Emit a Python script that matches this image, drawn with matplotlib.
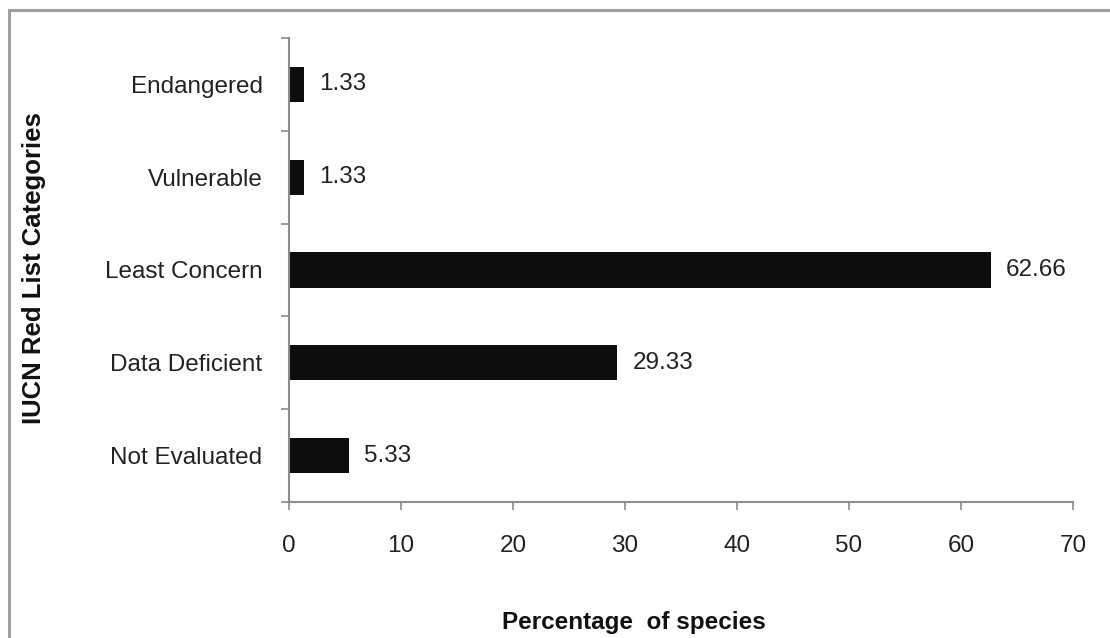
import matplotlib
matplotlib.use("Agg")
import matplotlib.pyplot as plt
from matplotlib.patches import Rectangle

categories = ["Not Evaluated", "Data Deficient", "Least Concern", "Vulnerable", "Endangered"]
percent = [5.33, 29.33, 62.66, 1.33, 1.33]
value_labels = ["5.33", "29.33", "62.66", "1.33", "1.33"]
xticks = [0, 10, 20, 30, 40, 50, 60, 70]

plt.rcParams['font.family'] = ['Liberation Sans', 'DejaVu Sans']
FS = 17.5

W, H = 1110, 638
fig = plt.figure(figsize=(W / 100, H / 100), dpi=100)
fig.patch.set_facecolor('white')

# outer frame (runs off right and bottom edges)
fig.patches.append(Rectangle((9 / W, -0.1), 1.2, 1 - 10 / H + 0.1,
                             transform=fig.transFigure, fill=False,
                             edgecolor='#a0a0a0', linewidth=2.2))

ax = fig.add_axes([289 / W, 1 - 502 / H, (1073 - 289) / W, (502 - 38) / H])
pos = list(range(len(categories)))
ax.barh(pos, percent, height=0.38, color='#0d0d0d')

for p, v, lab in zip(pos, percent, value_labels):
    ax.annotate(lab, (v, p), xytext=(11, 0), textcoords='offset points',
                va='center', ha='left', fontsize=FS, color='#222222')

ax.set_xlim(0, 70)
ax.set_ylim(-0.5, len(categories) - 0.5)
ax.set_xticks(xticks)
ax.set_xticklabels([str(t) for t in xticks])

# category names centred on the bars, ticks on the boundaries
ax.set_yticks([i - 0.5 for i in range(len(categories) + 1)])
ax.set_yticklabels([])
ax.set_yticks(pos, minor=True)
ax.set_yticklabels(categories, minor=True)
ax.tick_params(axis='y', which='minor', length=0, pad=19, labelsize=FS, labelcolor='#222222')
ax.tick_params(axis='y', which='major', length=6, width=1.2, color='#8c8c8c', direction='out')
ax.tick_params(axis='x', length=6, width=1.2, color='#8c8c8c', direction='out', pad=18,
               labelsize=FS, labelcolor='#222222')

for s in ['top', 'right']:
    ax.spines[s].set_visible(False)
for s in ['left', 'bottom']:
    ax.spines[s].set_color('#8c8c8c')
    ax.spines[s].set_linewidth(1.5)

fig.text(34 / W, 1 - 268 / H, "IUCN Red List Categories", rotation=90,
         ha='center', va='center', fontsize=18.5, fontweight='bold', color='#111111')
fig.text(634 / W, 1 - 622 / H, "Percentage  of species",
         ha='center', va='center', fontsize=FS, fontweight='bold', color='#111111')

fig.savefig("out.png", dpi=100, facecolor='white')
